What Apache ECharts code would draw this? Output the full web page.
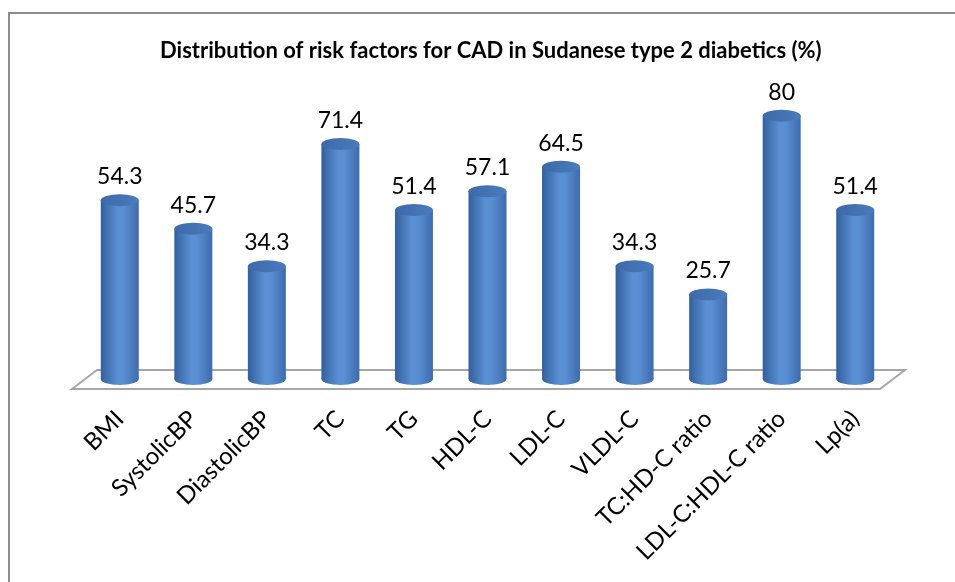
<!DOCTYPE html>
<html>
<head>
<meta charset="utf-8">
<title>Distribution of risk factors for CAD</title>
<script src="https://cdn.jsdelivr.net/npm/echarts@6/dist/echarts.min.js"></script>
<style>
  html, body { margin: 0; padding: 0; background: #fff; }
  #chart { width: 955px; height: 582px; }
</style>
</head>
<body>
<div id="chart"></div>
<script>
// 数据
const categories = ['BMI', 'SystolicBP', 'DiastolicBP', 'TC', 'TG', 'HDL-C', 'LDL-C', 'VLDL-C', 'TC:HD-C ratio', 'LDL-C:HDL-C ratio', 'Lp(a)']
const values = [54.3, 45.7, 34.3, 71.4, 51.4, 57.1, 64.5, 34.3, 25.7, 80, 51.4]
const titleText = 'Distribution of risk factors for CAD in Sudanese type 2 diabetics (%)'

const FONT = 'Lato, "Open Sans", sans-serif'
const gridLeft = 83
const gridRight = 63
const gridBottom = 203
const gridTop = 50
const barW = 38

const bodyColor = {
  type: 'linear', x: 0, y: 0, x2: 1, y2: 0,
  colorStops: [
    { offset: 0, color: '#33609c' },
    { offset: 0.45, color: '#5b90d4' },
    { offset: 0.6, color: '#5a8ed2' },
    { offset: 1, color: '#3e6cad' }
  ]
}
const topColor = {
  type: 'linear', x: 0, y: 0, x2: 1, y2: 0,
  colorStops: [
    { offset: 0, color: '#3d69a8' },
    { offset: 1, color: '#4a7bbd' }
  ]
}

const chart = echarts.init(document.getElementById('chart'))

// 地板（平行四边形）
const floorY = 582 - gridBottom
const floorLeft = gridLeft
const floorRight = 955 - gridRight

const option = {
  animation: false,
  title: {
    text: titleText,
    left: 155,
    top: 35,
    textStyle: { fontFamily: FONT, fontSize: 22, fontWeight: 'bold', color: '#000' }
  },
  grid: { left: gridLeft, right: gridRight, top: gridTop, bottom: gridBottom },
  xAxis: {
    type: 'category',
    data: categories,
    axisLine: { show: false },
    axisTick: { show: false },
    axisLabel: {
      rotate: 45,
      margin: 36,
      interval: 0,
      fontFamily: FONT,
      fontSize: 24,
      color: '#000'
    }
  },
  yAxis: {
    type: 'value',
    min: 0,
    max: 100,
    show: false,
    splitLine: { show: false }
  },
  graphic: [
    {
      type: 'rect',
      shape: { x: 9, y: 13, width: 960, height: 600 },
      style: { fill: 'none', stroke: '#8c8c8c', lineWidth: 2 },
      z: 0
    },
    {
      type: 'polygon',
      shape: {
        points: [
          [floorLeft - 11, floorY + 10],
          [floorLeft + 14, floorY - 9],
          [floorRight + 13, floorY - 9],
          [floorRight - 12, floorY + 10]
        ]
      },
      style: { fill: '#fff', stroke: '#a6a6a6', lineWidth: 2 },
      z: 0
    }
  ],
  series: [
    {
      name: 'body',
      type: 'bar',
      data: values,
      barWidth: barW,
      itemStyle: { color: bodyColor },
      label: {
        show: true,
        position: 'top',
        distance: 12,
        fontFamily: FONT,
        fontSize: 23,
        color: '#000'
      },
      z: 2
    },
    {
      name: 'bottom',
      type: 'pictorialBar',
      data: values,
      symbol: 'circle',
      symbolSize: [barW, 12],
      symbolOffset: [0, '50%'],
      itemStyle: { color: bodyColor },
      z: 1
    },
    {
      name: 'top',
      type: 'pictorialBar',
      data: values,
      symbol: 'circle',
      symbolPosition: 'end',
      symbolSize: [barW, 12],
      symbolOffset: [0, '-50%'],
      itemStyle: { color: topColor },
      z: 3
    }
  ]
}

chart.setOption(option)
</script>
</body>
</html>
